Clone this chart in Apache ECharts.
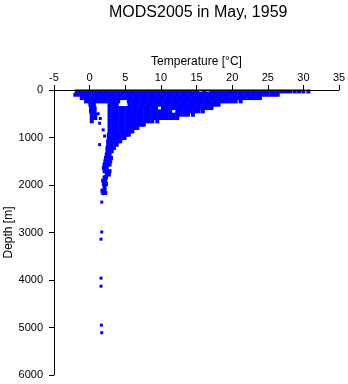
<!DOCTYPE html>
<html>
<head>
<meta charset="utf-8">
<script src="https://cdn.jsdelivr.net/npm/echarts@6/dist/echarts.min.js"></script>
<style>
  html, body { margin: 0; padding: 0; background: #fff; }
  #chart { width: 348px; height: 384px; }
</style>
</head>
<body>
<div id="chart"></div>
<script>
// profiles: [depth m, [temperatures °C]]
var surfaceRows = [
    [30, [-1.8,-1.3,-0.8,-0.3,0.2,0.7,1.2,1.7,2.2,2.7,3.2,3.7,4.2,4.7,5.2,5.7,6.2,6.7,7.2,7.7,8.2,8.7,9.2,9.7,10.2,10.7,11.2,11.7,12.2,12.7,13.2,13.7,14.2,14.7,15.2,15.7,16.2,16.7,17.2,17.7,18.2,18.7,19.2,19.7,20.2,20.7,21.2,21.7,22.2,22.7,23.2,23.7,24.2,24.7,25.2,25.7,26.2,26.7,27.2,27.7,28.2,28.8,29.4,30.0,30.7]],
    [100, [-2,-1.5,-1,-0.5,0,0.5,1,1.5,2,2.5,3,3.5,4,4.5,5,5.5,6,6.5,7,7.5,8,8.5,9,9.5,10,10.5,11,11.5,12,12.5,13,13.5,14,14.5,15,15.5,16,16.5,17,17.5,18,18.5,19,19.5,20,20.5,21,21.5,22,22.5,23,23.5,24,24.5,25,25.5,26,26.4]],
    [170, [-1.1,-0.6,-0.1,0.4,0.9,1.4,1.9,2.4,2.9,3.4,3.9,4.4,4.9,5.4,5.9,6.4,6.9,7.4,7.9,8.4,8.9,9.4,9.9,10.4,10.9,11.4,11.9,12.4,12.9,13.4,13.9,14.4,14.9,15.4,15.9,16.4,16.9,17.4,17.9,18.4,18.9,19.4,19.9,20.4,20.9,21.4,21.9,22.4,22.9,23.4,23.9]],
    [240, [-0.5,0,0.5,1,1.5,2,2.5,3,3.5,4,5.5,6,6.5,7,7.5,8,8.5,9,9.5,10,10.5,11,11.5,12,12.5,13,13.5,14,14.5,15,15.5,16,16.5,17,17.5,18,18.5,19,19.5,20,20.5,21.2]]
];

var thermoclineRows = [
    [310, [0.1,0.6,2.8,3.3,3.8,5.6,6.1,6.6,7.1,7.6,8.1,8.6,9.1,9.6,10.1,10.6,11.1,11.6,12.1,12.6,13.1,13.6,14.1,14.6,15.1,15.6,16.1,16.6,17.1,17.6,18.1]],
    [380, [0.2,0.7,2.8,3.3,3.8,4.3,4.8,5.3,5.8,6.3,6.8,7.3,7.8,8.3,8.8,9.3,10.3,10.8,11.3,11.8,12.3,12.8,13.3,13.8,14.3,14.8,15.3,15.8,16.3,16.8,17.1]],
    [450, [0.2,0.7,2.8,3.3,3.8,4.3,4.8,5.3,5.8,6.3,6.8,7.3,7.8,8.3,8.8,9.3,9.8,10.3,10.8,11.3,12.3,12.8,13.3,13.8,14.3,14.8,15.3,15.9]],
    [520, [0.3,0.8,2.8,3.3,3.8,4.3,4.8,5.3,5.8,6.3,6.8,7.3,7.8,8.3,8.8,9.3,9.8,10.3,10.8,11.3,11.8,12.3,12.8,13.3,13.8,14.5]],
    [590, [0.3,0.8,2.8,3.3,3.8,4.3,4.8,5.3,5.8,6.3,6.8,7.3,7.8,8.3,8.8,9.3,9.8,10.3,10.8,11.3,11.8,12.3]],
    [660, [0.3,2.8,3.3,3.8,4.3,4.8,5.3,5.8,6.3,6.8,7.3,7.8,8.3,8.8,9.5]]
];

var deepRows = [
    [730, [2.8,3.3,3.8,4.3,4.8,5.3,5.8,6.3,6.8,7.3,7.6]],
    [800, [2.8,3.3,3.8,4.3,4.8,5.3,5.8,6.3,6.7]],
    [870, [2.8,3.3,3.8,4.3,4.8,5.3,5.8,6.0]],
    [940, [2.7,3.2,3.7,4.2,4.7,5.2,5.5]],
    [1010, [2.7,3.2,3.7,4.2,4.7,4.9]],
    [1080, [2.6,3.1,3.6,4.1,4.3]],
    [1150, [2.6,3.1,3.6,3.8]],
    [1220, [2.5,3.0,3.4]],
    [1290, [2.5,2.9,3.1]],
    [1360, [2.4,2.8]],
    [1430, [2.3,2.7,3.0]],
    [1500, [2.2,2.6,2.9]],
    [1570, [2.1,2.5,2.8]],
    [1640, [2.0,2.4]],
    [1710, [2.1,2.5,2.8]],
    [1780, [2.4,2.7]],
    [1840, [2.1,2.3]],
    [1910, [1.9,2.2]],
    [1980, [2.0,2.3]],
    [2050, [2.1]],
    [2120, [1.8,2.1]],
    [2170, [1.9,2.2]]
];

// single casts, [temperature, depth]
var strayPoints = [[1.2,500],[1.5,600],[1.4,700],[1.9,840],[2.1,970],[1.4,1150]];
var abyssPoints = [[1.7,2360],[1.7,2990],[1.6,3140],[1.6,3960],[1.6,4130],[1.65,4950],[1.7,5110]];
var flaggedPoints = [[15.6,20],[16.6,20]];

function aplanar(filas) {
    var out = [];
    filas.forEach(function(f) {
        f[1].forEach(function(t) { out.push([t, f[0]]); });
    });
    return out;
}

var perfiles = aplanar(surfaceRows).concat(aplanar(thermoclineRows), aplanar(deepRows));

var fuente = 'Liberation Sans, Arial, Helvetica, sans-serif';
var chart = echarts.init(document.getElementById('chart'));
chart.setOption({
    animation: false,
    backgroundColor: '#fff',
    textStyle: { fontFamily: fuente },
    title: {
        text: 'MODS2005 in May, 1959',
        left: 104,
        top: 0,
        textStyle: { fontSize: 16, fontWeight: 'normal', color: '#000', fontFamily: fuente }
    },
    grid: { left: 54, right: 9, top: 90, bottom: 9, containLabel: false, outerBoundsMode: 'none' },
    xAxis: {
        type: 'value',
        position: 'top',
        min: -5, max: 35, interval: 5,
        name: 'Temperature [°C]',
        nameLocation: 'middle',
        nameGap: 22,
        nameMoveOverlap: false,
        nameTextStyle: { fontSize: 12, color: '#000' },
        axisLine: { show: true, onZero: false, lineStyle: { color: '#000', width: 1 } },
        axisTick: { show: true, length: 5, lineStyle: { color: '#000' } },
        axisLabel: { fontSize: 11, color: '#000', margin: 7 },
        splitLine: { show: false },
        z: 5
    },
    yAxis: {
        type: 'value',
        inverse: true,
        min: 0, max: 6000, interval: 1000,
        name: 'Depth [m]',
        nameLocation: 'middle',
        nameGap: 39,
        nameMoveOverlap: false,
        nameTextStyle: { fontSize: 12, color: '#000' },
        axisLine: { show: true, onZero: false, lineStyle: { color: '#000', width: 1 } },
        axisTick: { show: true, length: 5, lineStyle: { color: '#000' } },
        axisLabel: { fontSize: 11, color: '#000', margin: 11, formatter: function(v) { return String(v); } },
        splitLine: { show: false },
        z: 5
    },
    series: [{
        name: 'perfiles',
        type: 'scatter',
        symbol: 'rect',
        symbolSize: 4,
        itemStyle: { color: '#0000ff', opacity: 1 },
        emphasis: { disabled: true },
        data: perfiles
    }, {
        name: 'sueltos',
        type: 'scatter',
        symbol: 'rect',
        symbolSize: 3,
        itemStyle: { color: '#0000ff', opacity: 1 },
        emphasis: { disabled: true },
        data: strayPoints.concat(abyssPoints)
    }, {
        name: 'flag',
        type: 'scatter',
        symbol: 'rect',
        symbolSize: [3, 2],
        itemStyle: { color: '#ffa500', opacity: 1 },
        emphasis: { disabled: true },
        z: 4,
        data: flaggedPoints
    }]
});
</script>
</body>
</html>
